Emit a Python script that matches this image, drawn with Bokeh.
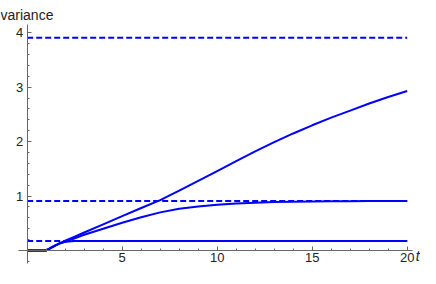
from bokeh.plotting import figure
from bokeh.models import Range1d, FixedTicker, Label
from bokeh.embed import file_html
from bokeh.resources import INLINE

# ---- data ----
t = [0, 1, 1.25, 1.5, 1.75, 2, 2.5, 3, 4, 5, 6, 7, 8, 9, 10, 11, 12, 13, 14,
     15, 16, 17, 18, 19, 20]
var_slow = [0, 0, 0.05, 0.10, 0.14, 0.18, 0.255, 0.33, 0.48, 0.63, 0.78, 0.925,
            1.10, 1.28, 1.46, 1.64, 1.82, 1.99, 2.15, 2.30, 2.44, 2.57, 2.70,
            2.82, 2.93]
var_mid = [0, 0, 0.05, 0.095, 0.13, 0.16, 0.225, 0.29, 0.40, 0.51, 0.61, 0.70,
           0.765, 0.81, 0.84, 0.862, 0.878, 0.889, 0.896, 0.90, 0.904, 0.906,
           0.908, 0.909, 0.91]
var_fast = [0, 0, 0.05, 0.095, 0.14, 0.16, 0.172, 0.175, 0.175, 0.175, 0.175,
            0.175, 0.175, 0.175, 0.175, 0.175, 0.175, 0.175, 0.175, 0.175,
            0.175, 0.175, 0.175, 0.175, 0.175]
limits = [3.91, 0.91, 0.175]
limit_t = [0, 20]
x_ticks = [5, 10, 15, 20]
x_minor = [1, 2, 3, 4, 6, 7, 8, 9, 11, 12, 13, 14, 16, 17, 18, 19]
y_ticks = [1, 2, 3, 4]
y_minor = [-0.2, 0.2, 0.4, 0.6, 0.8, 1.2, 1.4, 1.6, 1.8, 2.2, 2.4, 2.6, 2.8,
           3.2, 3.4, 3.6, 3.8]

BLUE = "#0000ff"
AX = "#666666"

p = figure(width=420, height=268, x_range=Range1d(-1.405, 20.70),
           y_range=Range1d(-0.331, 4.593), output_backend="svg",
           toolbar_location=None, min_border=0)
p.outline_line_color = None
p.grid.visible = False
p.background_fill_color = "white"

for ax in (p.xaxis[0], p.yaxis[0]):
    ax.fixed_location = 0
    ax.axis_line_color = AX
    ax.major_tick_line_color = AX
    ax.minor_tick_line_color = AX
    ax.major_tick_out = 0
    ax.major_tick_in = 4
    ax.minor_tick_out = 0
    ax.minor_tick_in = 2
    ax.major_label_text_font = "Liberation Sans"
    ax.major_label_text_font_size = "13px"
    ax.major_label_text_color = "#222222"

p.xaxis[0].major_label_standoff = 3
p.yaxis[0].major_label_standoff = 4
p.xaxis[0].ticker = FixedTicker(ticks=x_ticks, minor_ticks=x_minor)
p.yaxis[0].ticker = FixedTicker(ticks=y_ticks, minor_ticks=y_minor)
p.xaxis[0].bounds = (-0.46, 20.3)
p.yaxis[0].bounds = (-0.23, 4.15)

for lv in limits:
    p.line(limit_t, [lv, lv], line_color=BLUE, line_width=2, line_dash="6 3")

for ys in (var_slow, var_mid, var_fast):
    p.line(t, ys, line_color=BLUE, line_width=2)

p.add_layout(Label(x=0, y=254, x_units="screen", y_units="screen",
                   text="variance", text_font="Liberation Sans",
                   text_font_size="14px", text_color="#222222",
                   text_baseline="alphabetic"))
p.add_layout(Label(x=20.45, y=0, y_offset=-5.5, text="t",
                   text_font="Liberation Sans", text_font_style="italic",
                   text_font_size="14px", text_color="#222222",
                   text_baseline="alphabetic"))

open("out.html", "w").write(file_html(p, INLINE))
